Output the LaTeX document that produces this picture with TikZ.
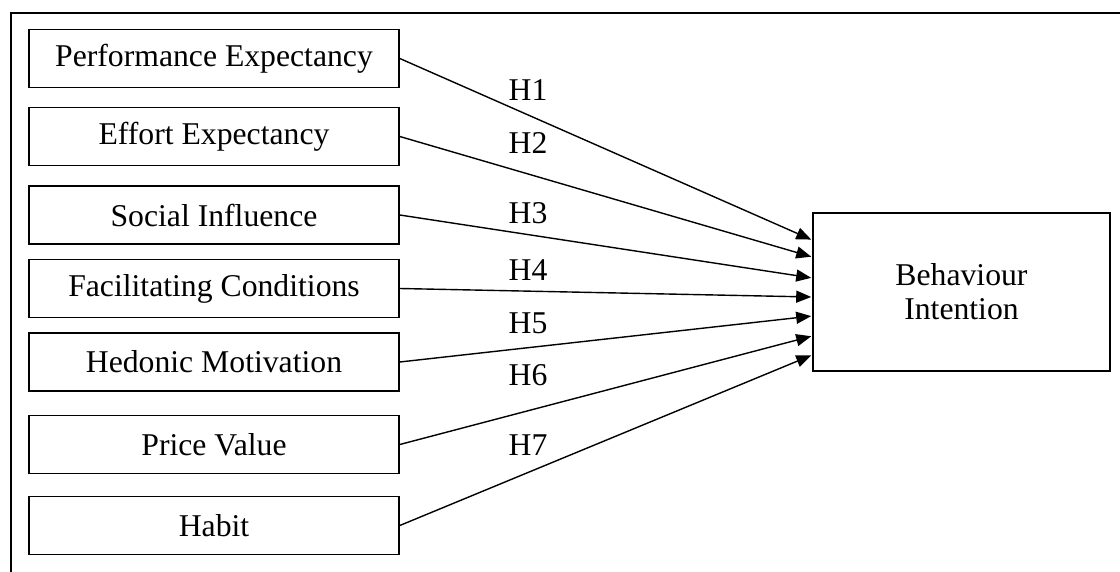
\documentclass[tikz,border=0pt]{standalone}
\usepackage{fontspec}
\setmainfont{Liberation Serif}
\usetikzlibrary{arrows.meta, positioning}

\begin{document}
\begin{tikzpicture}[x=1pt, y=-1pt,
				>={Triangle[length=15pt, width=12pt]},
				font=\fontsize{31.7}{34}\selectfont,
				factor/.style={draw, line width=1.6pt, minimum width=370pt, minimum height=58pt, inner sep=0pt},
				hyp/.style={->, line width=1.4pt, shorten >=1pt}]
				
				\useasboundingbox (0,0) rectangle (1120,572);
				\draw[line width=1.8pt] (11,580) |- (1130,13);
				
				% factors
				\node[factor] (pe) at (214,58.5) {Performance Expectancy};
				\node[factor] (ee) at (214,136.5) {Effort Expectancy};
				\node[factor] (si) at (214,215) {Social Influence};
				\node[factor] (fc) at (214,288.5) {Facilitating Conditions};
				\node[factor] (hm) at (214,362) {Hedonic Motivation};
				\node[factor] (pv) at (214,444.5) {Price Value};
				\node[factor] (hb) at (214,525.5) {Habit};
				\node[draw, line width=1.6pt, minimum width=297pt, minimum height=158pt, align=center] (bi) at (961.5,292) {Behaviour\\ Intention};
				
				% hypotheses
				\draw[hyp] (pe.east) -- ([yshift=52pt]bi.west);
				\draw[hyp] (ee.east) -- ([yshift=35pt]bi.west);
				\draw[hyp] (si.east) -- ([yshift=14pt]bi.west);
				\draw[hyp] (fc.east) -- ([yshift=-5pt]bi.west);
				\draw[hyp] (hm.east) -- ([yshift=-24pt]bi.west);
				\draw[hyp] (pv.east) -- ([yshift=-44pt]bi.west);
				\draw[hyp] (hb.east) -- ([yshift=-63pt]bi.west);
				
				\node (h1) at (528,90) {H1};
				\node (h2) at (528,143) {H2};
				\node (h3) at (528,213) {H3};
				\node (h4) at (528,270) {H4};
				\node (h5) at (528,323) {H5};
				\node (h6) at (528,375) {H6};
				\node (h7) at (528,445) {H7};
			\end{tikzpicture}
\end{document}
